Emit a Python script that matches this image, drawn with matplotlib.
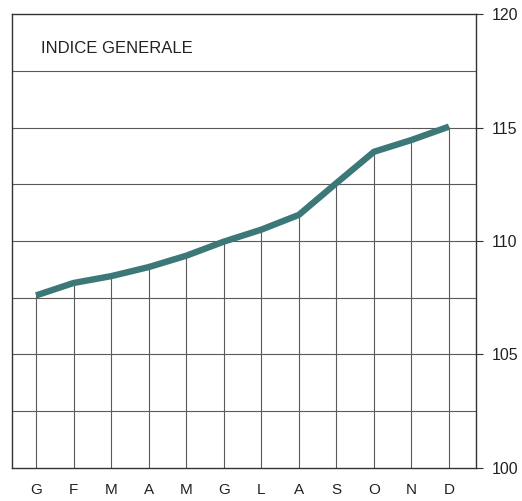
import matplotlib
matplotlib.use('Agg')
import matplotlib.pyplot as plt

plt.rcParams['font.family'] = ['Liberation Sans', 'DejaVu Sans']

# Monthly values of the general index
months = ['G', 'F', 'M', 'A', 'M', 'G', 'L', 'A', 'S', 'O', 'N', 'D']
values = [107.6, 108.15, 108.45, 108.85, 109.35, 109.97, 110.5, 111.15, 112.55, 113.93, 114.45, 115.04]
y_ticks = [100, 105, 110, 115, 120]
grid_levels = [102.5, 105, 107.5, 110, 112.5, 115, 117.5]

x = list(range(len(months)))

fig = plt.figure(figsize=(5.22, 5.01), dpi=100)
ax = fig.add_axes([0.023, 0.066, 0.889, 0.906])

# horizontal grid
for g in grid_levels:
    ax.axhline(g, color='#5a5a5a', linewidth=0.8, zorder=1)

# vertical lines from the base to the curve
ax.vlines(x, 100, values, color='#5a5a5a', linewidth=0.8, zorder=1)

# the index line
ax.plot(x, values, color='#3d7878', linewidth=4.6, solid_capstyle='butt',
        solid_joinstyle='round', zorder=3)

ax.set_xlim(-0.64, 11.72)
ax.set_ylim(100, 120)

ax.set_xticks(x)
ax.set_xticklabels(months, fontsize=11, color='#222222')
ax.tick_params(axis='x', length=0, pad=11)

ax.yaxis.tick_right()
ax.set_yticks(y_ticks)
ax.set_yticklabels([str(t) for t in y_ticks], fontsize=11.5, color='#222222')
ax.tick_params(axis='y', length=5, width=0.8, pad=6, color='#333333')

for s in ax.spines.values():
    s.set_color('#333333')
    s.set_linewidth(1.0)

ax.text(0.063, 0.925, 'INDICE GENERALE', transform=ax.transAxes,
        fontsize=12, color='#222222', va='center', ha='left')

fig.savefig('out.png', dpi=100)
